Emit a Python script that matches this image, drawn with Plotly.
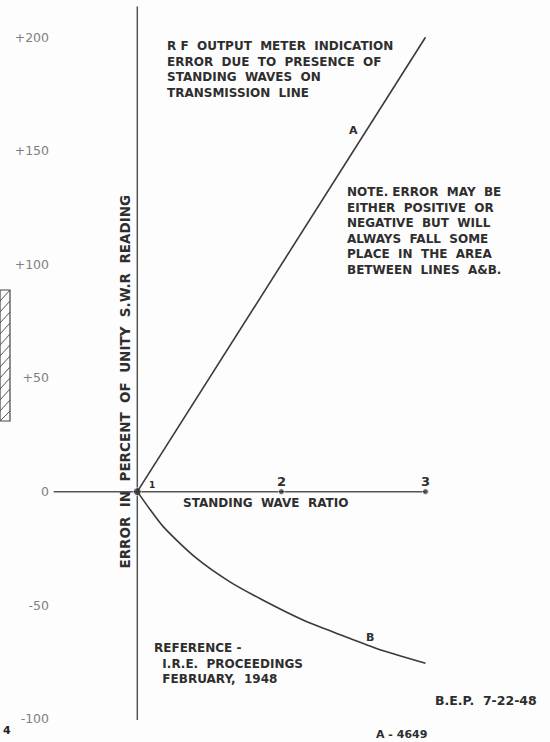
import plotly.graph_objects as go

# data
swr_a = [1.0, 3.0]
err_a = [0, 200]

swr_b = [1.0, 1.09, 1.18, 1.41, 1.64, 1.87, 2.15, 2.38, 2.66, 3.0]
err_b = [0, -8, -15.4, -29.3, -39.6, -47.7, -56.5, -62.3, -69.0, -75.5]

y_ticks = [200, 150, 100, 50, 0, -50, -100]
y_ticktext = ["+200", "+150", "+100", "+50", "0", "-50", "-100"]
x_marks = [1, 2, 3]
x_marktext = ["1", "2", "3"]

INK = "#2e2e2e"
GREY = "#808080"
FONT = "DejaVu Sans"

fig = go.Figure()

# axes drawn as in the original drawing
fig.add_trace(go.Scatter(x=[1, 1], y=[-100.5, 213.5], mode="lines",
                         line=dict(color="#555555", width=1.5), hoverinfo="skip"))
fig.add_trace(go.Scatter(x=[0.42, 3.0], y=[0, 0], mode="lines",
                         line=dict(color="#555555", width=1.5), hoverinfo="skip"))
fig.add_trace(go.Scatter(x=x_marks, y=[0] * len(x_marks), mode="markers",
                         marker=dict(color="#222222", size=[8, 6, 6]), hoverinfo="skip"))

# line A and curve B
fig.add_trace(go.Scatter(x=swr_a, y=err_a, mode="lines", name="A",
                         line=dict(color="#3a3a3a", width=1.6)))
fig.add_trace(go.Scatter(x=swr_b, y=err_b, mode="lines", name="B",
                         line=dict(color="#3a3a3a", width=1.6, shape="spline", smoothing=0.8)))

def txt(x, y, s, size=12, color=INK, xanchor="left", yanchor="middle", weight="bold", **kw):
    fig.add_annotation(x=x, y=y, xref="x", yref="y", text=s, showarrow=False,
                       xanchor=xanchor, yanchor=yanchor, align="left",
                       font=dict(family=FONT, size=size, color=color, weight=weight), **kw)

# x labels along the axis
for xv, t in zip(x_marks, x_marktext):
    if xv == 1:
        txt(1.1, 3, t, size=9, xanchor="center")
    else:
        txt(xv, 4.5, t, size=13, xanchor="center")

txt(1.3, -5, "STANDING  WAVE  RATIO", size=12)

fig.add_annotation(x=0.915, y=48.5, xref="x", yref="y", showarrow=False, textangle=-90,
                   text="ERROR  IN  PERCENT  OF  UNITY  S.W.R  READING",
                   font=dict(family=FONT, size=13.5, color=INK, weight="bold"))

txt(1.19, 200, "R F  OUTPUT  METER  INDICATION<br>ERROR  DUE  TO  PRESENCE  OF<br>"
    "STANDING  WAVES  ON<br>TRANSMISSION  LINE", yanchor="top")

txt(2.44, 135.8, "NOTE. ERROR  MAY  BE<br>EITHER  POSITIVE  OR<br>NEGATIVE  BUT  WILL<br>"
    "ALWAYS  FALL  SOME<br>PLACE  IN  THE  AREA<br>BETWEEN  LINES  A&B.", yanchor="top")

txt(2.5, 159, "A", size=11, xanchor="center")
txt(2.615, -64, "B", size=11, xanchor="center")

txt(1.1, -65, "REFERENCE -<br>  I.R.E.  PROCEEDINGS<br>  FEBRUARY,  1948", yanchor="top")
txt(3.05, -92, "B.E.P.  7-22-48", size=12.5)
txt(2.64, -107, "A - 4649", size=11)

# page edge fragments of the scan
fig.add_annotation(x=(7 - 50) / 500, y=1 - 730 / 742, xref="paper", yref="paper",
                   xanchor="center", yanchor="middle", text="<b>4</b>",
                   showarrow=False, font=dict(family=FONT, size=11, color="#222222"))
shapes = [dict(type="rect", xref="paper", yref="paper", x0=-0.1, x1=-0.08,
               y0=1 - 421 / 742, y1=1 - 290 / 742, line=dict(color="#444444", width=1.2))]
for k in range(12):
    top = 290 + k * 11
    shapes.append(dict(type="line", xref="paper", yref="paper", x0=-0.1, x1=-0.08,
                       y0=1 - min(top + 11, 421) / 742, y1=1 - top / 742,
                       line=dict(color="#555555", width=1)))

fig.update_layout(
    width=550, height=742,
    margin=dict(l=50, r=0, t=0, b=0),
    paper_bgcolor="#fdfdfd", plot_bgcolor="#fdfdfd",
    showlegend=False, shapes=shapes,
    xaxis=dict(range=[0.3942, 3.864], visible=False, fixedrange=True),
    yaxis=dict(range=[-110.2, 216.4], showgrid=False, zeroline=False, showline=False,
               tickvals=y_ticks, ticktext=y_ticktext, ticks="", ticklabelstandoff=0,
               tickfont=dict(family=FONT, size=12.5, color=GREY), fixedrange=True),
)

fig.write_html("out.html", config={"displayModeBar": False},
               post_script="document.body.style.margin='0';")
